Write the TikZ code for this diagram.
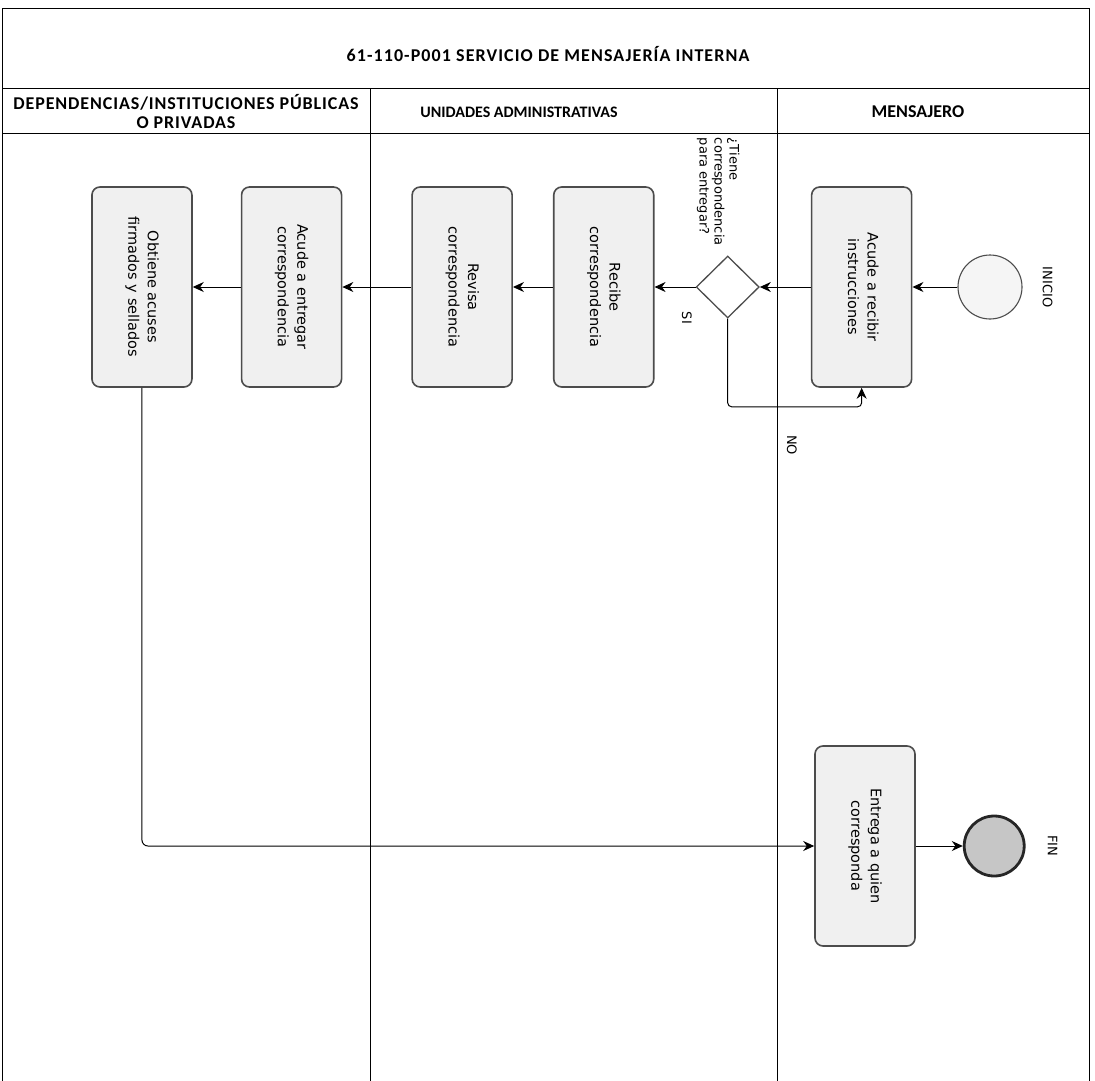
\documentclass[tikz,border=0pt]{standalone}
\usepackage{fontspec}
\setmainfont{DejaVu Sans}
\newfontfamily\headfont{Carlito}
\usetikzlibrary{arrows.meta,positioning,shapes.geometric}
\tikzset{every picture/.style={line width=0.75pt}}
\newcommand{\vtext}[2][c]{\rotatebox{-90}{\begin{tabular}{@{}#1@{}}#2\end{tabular}}}
\newcommand{\spread}[1]{\addfontfeatures{LetterSpace=#1}}
\tikzset{
  lane/.style={draw=black, line width=0.8pt},
  task/.style={draw=gray!60!black, line width=1.6pt, rounded corners=8pt, fill=gray!12,
    minimum width=100pt, minimum height=200pt, inner sep=0pt, font=\fontsize{14.5}{19.5}\selectfont},
  gate/.style={diamond, aspect=1, draw=gray!60!black, line width=1.3pt, fill=white,
    minimum width=63pt, minimum height=62pt, inner sep=0pt},
  startev/.style={circle, draw=gray!60!black, line width=1.1pt, fill=gray!8, minimum size=64pt},
  endev/.style={circle, draw=black!85, line width=2.8pt, fill=gray!45, minimum size=60pt},
  flow/.style={-{Stealth[length=11pt,width=10pt]}, line width=1pt},
  tag/.style={font=\fontsize{13}{15}\selectfont},
  head/.style={font=\headfont\bfseries\fontsize{18}{19}\selectfont}
}

\begin{document}
\begin{tikzpicture}[x=1pt,y=-1pt]
    \useasboundingbox (0,0) rectangle (1095,1081);
    % pool and lanes
    \draw[lane] (2,1081) -- (2,8) -- (1089,8) -- (1089,1081);
    \draw[lane] (2,88) -- (1089,88);
    \draw[lane] (2,133) -- (1089,133);
    \draw[lane] (370,88) -- (370,1081);
    \draw[lane] (777,88) -- (777,1081);
    \node[head] (title) at (548,54) {\spread{6}61-110-P001 SERVICIO DE MENSAJERÍA INTERNA};
    \node[head, align=center] (lanedep) at (186,112) {\spread{5}DEPENDENCIAS/INSTITUCIONES PÚBLICAS\\\spread{5}O PRIVADAS};
    \node[head, font=\headfont\bfseries\fontsize{16}{18}\selectfont] (laneuni) at (519,112) {UNIDADES ADMINISTRATIVAS};
    \node[head] (lanemen) at (918,112) {MENSAJERO};

    % flow
    \node[startev] (ini) at (990,287) {};
    \node[tag, right=12pt of ini] (inilabel) {\vtext{INICIO}};
    \node[task, left=45pt of ini] (inst) {\vtext{Acude a recibir\\instrucciones}};
    \node[gate, left=51pt of inst] (dec) {};
    \node[tag, above=6pt of dec, xshift=-10pt] (question) {\vtext[l]{¿Tiene\\correspondencia\\para entregar?}};
    \node[task, left=41pt of dec] (rec) {\vtext{Recibe\\correspondencia}};
    \node[task, left=40pt of rec] (rev) {\vtext{Revisa\\correspondencia}};
    \node[task, left=69pt of rev] (acu) {\vtext{Acude a entregar\\correspondencia}};
    \node[task, left=48pt of acu] (obt) {\vtext{Obtiene acuses\\firmados y sellados}};
    \node[task] (ent) at (865,846) {\vtext{Entrega a quien\\corresponda}};
    \node[endev, right=47pt of ent] (fin) {};
    \node[tag, right=14pt of fin] (finlabel) {\vtext{FIN}};
    \node[tag] (si) at (685,318) {\vtext{SI}};
    \node[tag] (no) at (790,445) {\vtext{NO}};

    \draw[flow] (ini) -- (inst);
    \draw[flow] (inst) -- (dec);
    \draw[flow] (dec) -- (rec);
    \draw[flow] (rec) -- (rev);
    \draw[flow] (rev) -- (acu);
    \draw[flow] (acu) -- (obt);
    \draw[flow, rounded corners=4pt] (dec.south) |- ([yshift=-19pt]inst.south) -- (inst.south);
    \draw[flow, rounded corners=6pt] (obt.south) |- (ent.west);
    \draw[flow] (ent) -- (fin);
\end{tikzpicture}
\end{document}
